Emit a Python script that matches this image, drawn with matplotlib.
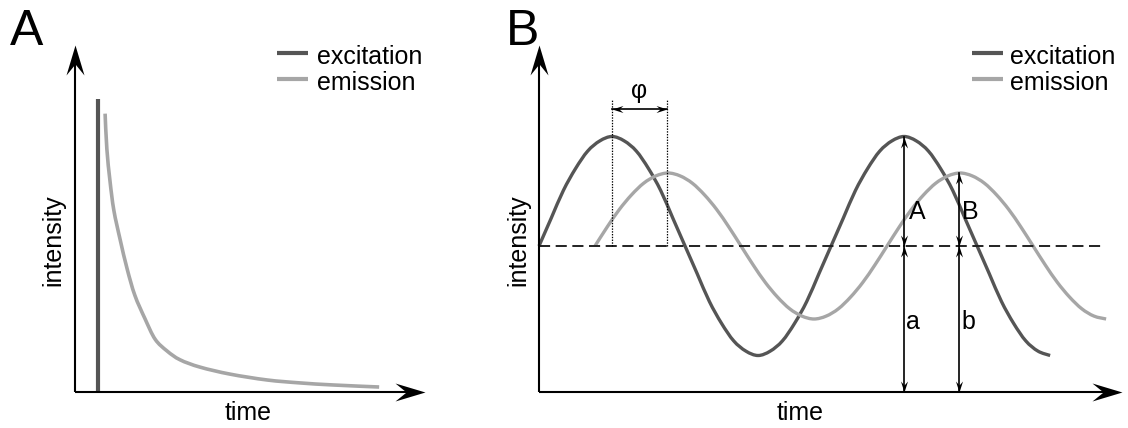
import numpy as np
import matplotlib
matplotlib.use('Agg')
import matplotlib.pyplot as plt
from matplotlib.path import Path
from matplotlib.patches import PathPatch
from matplotlib.markers import MarkerStyle
from matplotlib.transforms import Affine2D

plt.rcParams['font.family'] = ['Liberation Sans', 'DejaVu Sans']
plt.rcParams['lines.scale_dashes'] = False

# ---- data ----
# panel A: pulse excitation and decaying emission
exc_a_t = [0.66, 0.66]
exc_a_i = [0.0, 1.0]
em_a_t = [0.86, 0.91, 1.00, 1.11, 1.29, 1.49, 1.71, 2.00, 2.29, 2.63,
          3.00, 3.57, 4.43, 5.49, 6.43, 7.37, 8.69]
em_a_i = [0.95, 0.83, 0.72, 0.62, 0.52, 0.42, 0.33, 0.25, 0.18, 0.14,
          0.11, 0.085, 0.061, 0.041, 0.031, 0.024, 0.017]

# panel B: modulated excitation and phase shifted emission
exc_b_t = list(range(43))
exc_b_i = [1.00, 1.19, 1.38, 1.53, 1.65, 1.72, 1.75, 1.72, 1.65, 1.53, 1.38, 1.19,
           1.00, 0.81, 0.62, 0.47, 0.35, 0.28, 0.25, 0.28, 0.35, 0.47, 0.62, 0.81,
           1.00, 1.19, 1.38, 1.53, 1.65, 1.72, 1.75, 1.72, 1.65, 1.53, 1.38, 1.19,
           1.00, 0.81, 0.62, 0.47, 0.35, 0.28, 0.25]
em_b_t = [4.6, 5.6, 6.6, 7.6, 8.6, 9.6, 10.6, 11.6, 12.6, 13.6, 14.6, 15.6,
          16.6, 17.6, 18.6, 19.6, 20.6, 21.6, 22.6, 23.6, 24.6, 25.6, 26.6, 27.6,
          28.6, 29.6, 30.6, 31.6, 32.6, 33.6, 34.6, 35.6, 36.6, 37.6, 38.6, 39.6,
          40.6, 41.6, 42.6, 43.6, 44.6, 45.6, 46.6]
em_b_i = [1.00, 1.13, 1.25, 1.35, 1.43, 1.48, 1.50, 1.48, 1.43, 1.35, 1.25, 1.13,
          1.00, 0.87, 0.75, 0.65, 0.57, 0.52, 0.50, 0.52, 0.57, 0.65, 0.75, 0.87,
          1.00, 1.13, 1.25, 1.35, 1.43, 1.48, 1.50, 1.48, 1.43, 1.35, 1.25, 1.13,
          1.00, 0.87, 0.75, 0.65, 0.57, 0.52, 0.50]
mean_level = 1.0
dashed_end = 46.5
phase_marks = [6.0, 10.5]
exc_peak_t, exc_peak_i = 30.0, 1.75
em_peak_t, em_peak_i = 34.5, 1.5

legend_labels = ['excitation', 'emission']
c_exc = '#555555'
c_em = '#a6a6a6'

W, H = 1128, 428
fig = plt.figure(figsize=(W / 100, H / 100), dpi=100)


def box(x0, y0, x1, y1):
    # pixel box (top-left origin) -> figure fraction
    return [x0 / W, 1 - y1 / H, (x1 - x0) / W, (y1 - y0) / H]


def smooth_line(ax, xs, ys, **kw):
    # draws a smooth curve through the read points (Catmull-Rom as Bezier)
    p = np.column_stack([xs, ys]).astype(float)
    n = len(p)
    verts, codes = [p[0]], [Path.MOVETO]
    for i in range(n - 1):
        p0 = p[i - 1] if i > 0 else p[i]
        p3 = p[i + 2] if i + 2 < n else p[i + 1]
        verts += [p[i] + (p[i + 1] - p0) / 6, p[i + 1] - (p3 - p[i]) / 6, p[i + 1]]
        codes += [Path.CURVE4] * 3
    ax.add_patch(PathPatch(Path(verts, codes), fill=False, clip_on=False, **kw))


def head(ax, x, y, angle, length, ratio=0.3, notch=0.63):
    verts = [(0, 0), (-1, ratio), (-notch, 0), (-1, -ratio), (0, 0)]
    codes = [Path.MOVETO, Path.LINETO, Path.LINETO, Path.LINETO, Path.CLOSEPOLY]
    m = MarkerStyle(Path(verts, codes), transform=Affine2D().rotate_deg(angle))
    ax.plot([x], [y], marker=m, ms=length * 2 * 72 / 100, color='k', mew=0,
            ls='none', clip_on=False, zorder=5)


def double_arrow(ax, x0, y0, x1, y1, vertical=True):
    ax.plot([x0, x1], [y0, y1], color='k', lw=1.2, clip_on=False, zorder=4)
    if vertical:
        head(ax, x1, y1, 90 if y1 > y0 else -90, 11, 0.32)
        head(ax, x0, y0, -90 if y1 > y0 else 90, 11, 0.32)
    else:
        head(ax, x1, y1, 0, 11, 0.32)
        head(ax, x0, y0, 180, 11, 0.32)


# ---- panel A ----
axA = fig.add_axes(box(75, 45, 425, 392))
axA.set_xlim(0, 10)
axA.set_ylim(0, 347 / 293)
axA.axis('off')
axA.plot(exc_a_t, exc_a_i, color=c_exc, lw=3, solid_capstyle='butt', clip_on=False)
smooth_line(axA, em_a_t, em_a_i, edgecolor=c_em, lw=2.6, capstyle='butt')

# ---- panel B ----
axB = fig.add_axes(box(539, 45, 1122, 392))
axB.set_xlim(0, 583 / 12.17)
axB.set_ylim(0, 347 / 146)
axB.axis('off')
smooth_line(axB, exc_b_t, exc_b_i, edgecolor=c_exc, lw=2.4, zorder=2)
smooth_line(axB, em_b_t, em_b_i, edgecolor=c_em, lw=2.4, zorder=2)
axB.plot([0, dashed_end], [mean_level, mean_level], color='#222222', lw=1.4,
         dashes=(8, 4), clip_on=False, zorder=3)
for xm in phase_marks:
    axB.plot([xm, xm], [mean_level, 2.0], color='k', lw=0.9, dashes=(1, 1),
             clip_on=False, zorder=3)
double_arrow(axB, phase_marks[0], 1.94, phase_marks[1], 1.94, vertical=False)
axB.text(sum(phase_marks) / 2, 2.06, 'φ', fontsize=18, ha='center', va='center')

double_arrow(axB, exc_peak_t, mean_level, exc_peak_t, exc_peak_i)
double_arrow(axB, exc_peak_t, 0, exc_peak_t, mean_level)
double_arrow(axB, em_peak_t, mean_level, em_peak_t, em_peak_i)
double_arrow(axB, em_peak_t, 0, em_peak_t, mean_level)
axB.text(exc_peak_t + 1.05, 1.23, 'A', fontsize=18, ha='center', va='center', zorder=6)
axB.text(exc_peak_t + 0.75, 0.48, 'a', fontsize=18, ha='center', va='center', zorder=6)
axB.text(em_peak_t + 0.95, 1.23, 'B', fontsize=18, ha='center', va='center', zorder=6)
axB.text(em_peak_t + 0.8, 0.48, 'b', fontsize=18, ha='center', va='center', zorder=6)

# ---- overlay in pixel coordinates: axes arrows, labels, legends ----
ov = fig.add_axes([0, 0, 1, 1])
ov.set_xlim(0, W)
ov.set_ylim(H, 0)
ov.axis('off')
ov.patch.set_alpha(0)

for x0, x1 in [(75, 425), (539, 1122)]:
    ov.plot([x0, x0], [392, 45 + 18], color='k', lw=1.5, solid_capstyle='butt')
    ov.plot([x0, x1 - 18], [392, 392], color='k', lw=1.5, solid_capstyle='butt')
    head(ov, x0, 45, 90, 30)
    head(ov, x1, 392, 0, 30)

ov.text(10, 45, 'A', fontsize=36, ha='left', va='baseline')
ov.text(506, 45, 'B', fontsize=36, ha='left', va='baseline')
ov.text(248, 420, 'time', fontsize=18, ha='center', va='baseline')
ov.text(800, 420, 'time', fontsize=18, ha='center', va='baseline')
ov.text(53, 240, 'intensity', fontsize=18, rotation=90, ha='center', va='center')
ov.text(518, 240, 'intensity', fontsize=18, rotation=90, ha='center', va='center')

for lx0, lx1, tx in [(277, 308, 317), (972, 1003, 1010)]:
    for ly, base, col, lab in [(53, 64, c_exc, legend_labels[0]), (79, 90, c_em, legend_labels[1])]:
        ov.plot([lx0, lx1], [ly, ly], color=col, lw=3, solid_capstyle='butt')
        ov.text(tx, base, lab, fontsize=18, ha='left', va='baseline')

fig.savefig('out.png', dpi=100)
